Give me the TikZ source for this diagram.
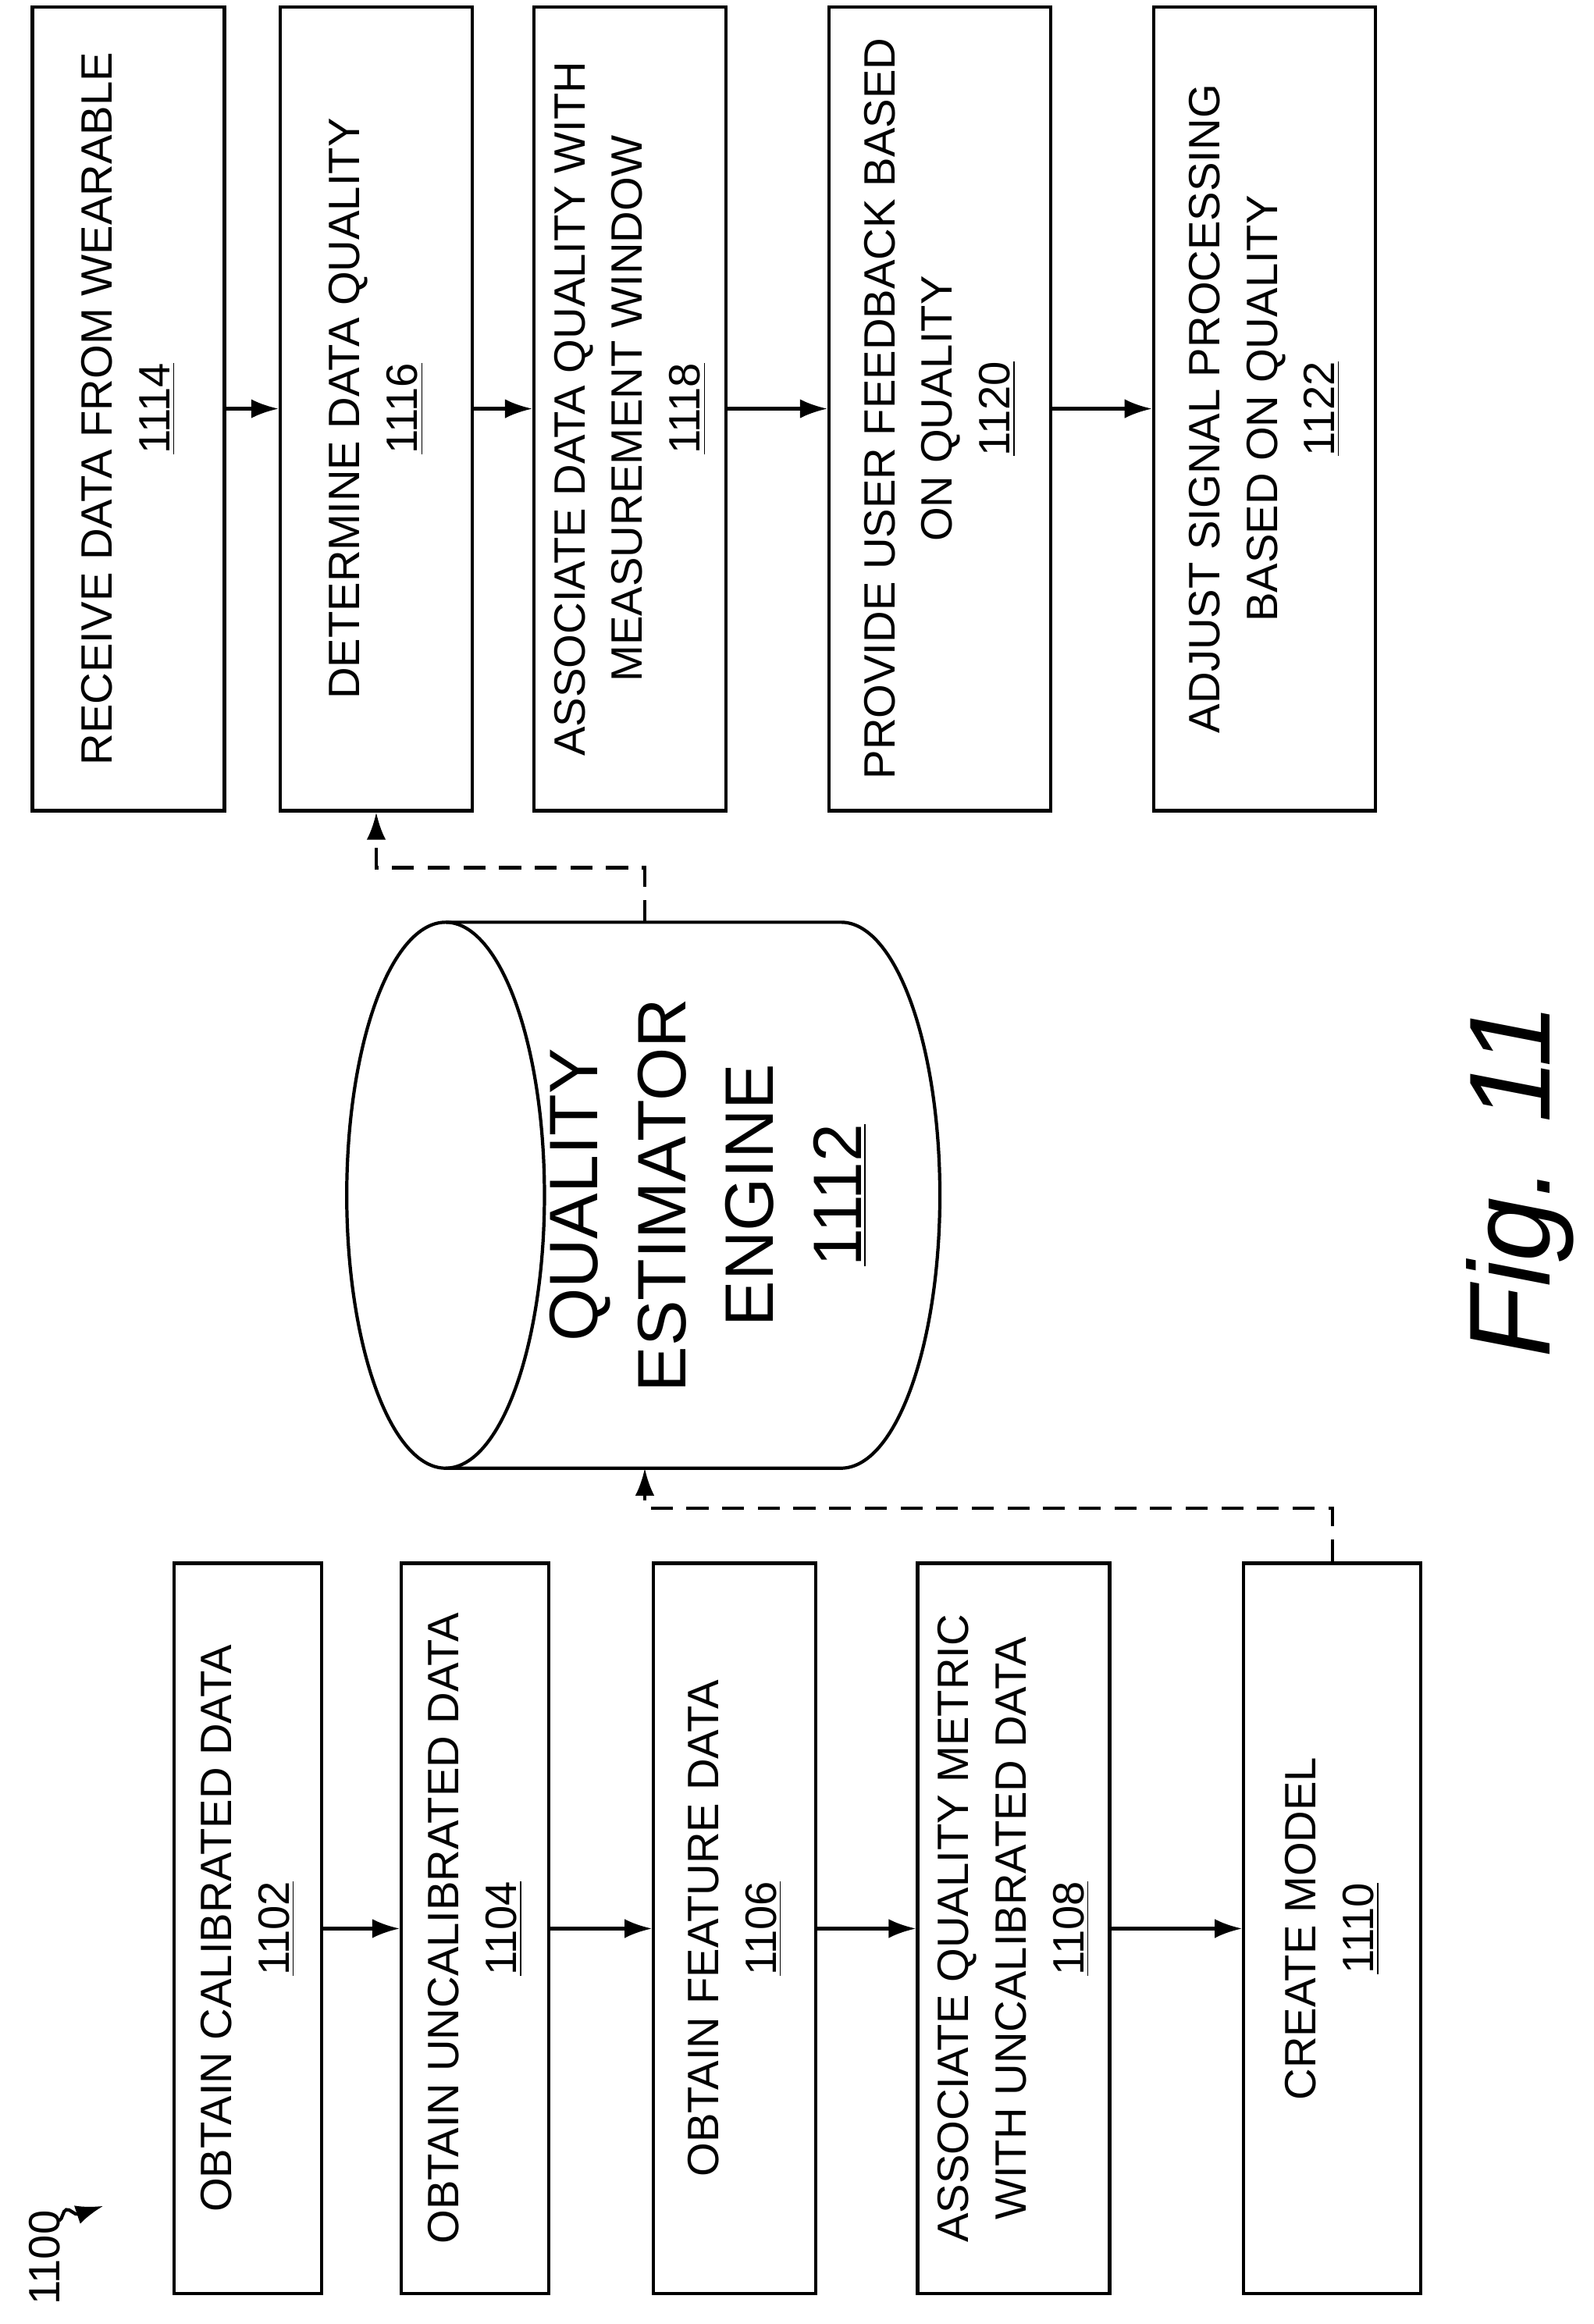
\documentclass[tikz,border=0pt]{standalone}
\usepackage{fontspec}
\setmainfont{Liberation Sans}
\usetikzlibrary{arrows.meta,decorations.pathmorphing}
\tikzset{
  stage/.style={draw,line width=1.2pt,rotate=90,align=center,font=\fontsize{16}{21}\selectfont,inner sep=2pt},
  flow/.style={-{Latex[length=10pt,width=7pt]},line width=1.2pt},
  dflow/.style={flow,dash pattern=on 8pt off 5pt},
}
\begin{document}
\begin{tikzpicture}[x=0.0189cm,y=-0.0189cm]
    \useasboundingbox (0,0) rectangle (1080,1575);

    % upper row
    \node[stage,minimum width=10.3cm,minimum height=2.46cm] (r1114) at (87,277) {RECEIVE DATA FROM WEARABLE\\\underline{1114}};
    \node[stage,minimum width=10.3cm,minimum height=2.46cm] (r1116) at (255,277) {DETERMINE DATA QUALITY\\\underline{1116}};
    \node[stage,minimum width=10.3cm,minimum height=2.46cm] (r1118) at (427,277) {ASSOCIATE DATA QUALITY WITH\\MEASUREMENT WINDOW\\\underline{1118}};
    \node[stage,minimum width=10.3cm,minimum height=2.84cm] (r1120) at (637,277) {PROVIDE USER FEEDBACK BASED\\ON QUALITY\\\underline{1120}};
    \node[stage,minimum width=10.3cm,minimum height=2.84cm] (r1122) at (857,277) {ADJUST SIGNAL PROCESSING\\BASED ON QUALITY\\\underline{1122}};

    \draw[flow] (r1114) -- (r1116);
    \draw[flow] (r1116) -- (r1118);
    \draw[flow] (r1118) -- (r1120);
    \draw[flow] (r1120) -- (r1122);

    % lower row
    \node[stage,minimum width=9.36cm,minimum height=1.89cm] (r1102) at (168,1307) {OBTAIN CALIBRATED DATA\\\underline{1102}};
    \node[stage,minimum width=9.36cm,minimum height=1.89cm] (r1104) at (322,1307) {OBTAIN UNCALIBRATED DATA\\\underline{1104}};
    \node[stage,minimum width=9.36cm,minimum height=2.08cm] (r1106) at (498,1307) {OBTAIN FEATURE DATA\\\underline{1106}};
    \node[stage,minimum width=9.36cm,minimum height=2.46cm] (r1108) at (687,1307) {ASSOCIATE QUALITY METRIC\\WITH UNCALIBRATED DATA\\\underline{1108}};
    \node[stage,minimum width=9.36cm,minimum height=2.27cm] (r1110) at (903,1307) {CREATE MODEL\\\underline{1110}};

    \draw[flow] (r1102) -- (r1104);
    \draw[flow] (r1104) -- (r1106);
    \draw[flow] (r1106) -- (r1108);
    \draw[flow] (r1108) -- (r1110);

    % engine
    \draw[line width=1.2pt] (302,810) ellipse (67 and 185);
    \draw[line width=1.2pt] (302,625) -- (570,625) arc[start angle=-90,end angle=90,x radius=67,y radius=185] -- (302,995);
    \node[rotate=90,align=center,font=\fontsize{25}{32}\selectfont] (engine) at (480,810) {QUALITY\\ESTIMATOR\\ENGINE\\\underline{1112}};
    \coordinate (engtop) at (437,625);
    \coordinate (engbot) at (437,995);

    \draw[dflow] (r1110.east) |- (437,1022) -- (engbot);
    \draw[dflow] (engtop) -- (437,588) -| (r1116.west);

    % labels
    \node[rotate=90,font=\itshape\fontsize{42}{50}\selectfont] (fig) at (1030,800) {Fig. 11};
    \node[rotate=90,font=\fontsize{16}{20}\selectfont] (ref) at (30,1530) {1100};
    \coordinate (refend) at (70,1495);
    \draw[flow,decorate,decoration={snake,amplitude=3pt,segment length=12pt,post length=6pt}] (40,1505) -- (refend);
\end{tikzpicture}
\end{document}
